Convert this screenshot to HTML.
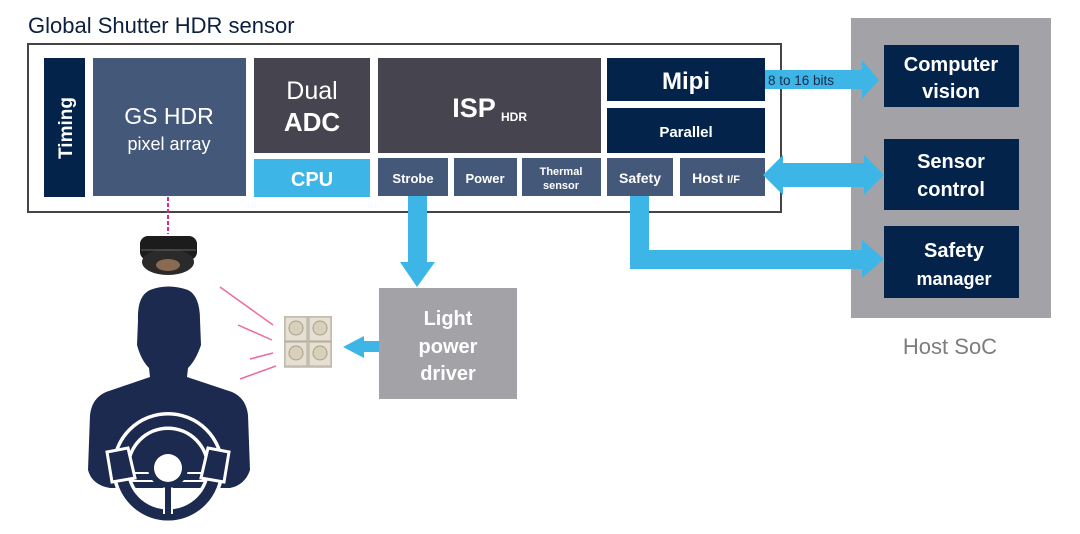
<!DOCTYPE html>
<html><head><meta charset="utf-8"><style>
html,body{margin:0;padding:0;background:#fff}
svg{display:block}
text{font-family:"Liberation Sans",sans-serif}
</style></head><body>
<svg width="1080" height="534" viewBox="0 0 1080 534" xmlns="http://www.w3.org/2000/svg">
<text x="28" y="33" font-size="22" fill="#0b1f3f">Global Shutter HDR sensor</text>
<rect x="28" y="44" width="753" height="168" fill="#fff" stroke="#454545" stroke-width="2"/>
<rect x="851" y="18" width="200" height="300" fill="#a3a2a7"/>
<text x="950" y="354" font-size="22" fill="#7d7d7d" text-anchor="middle">Host SoC</text>
<g font-weight="bold" fill="#fff" text-anchor="middle">
<rect x="44" y="58" width="41" height="139" fill="#03234b"/>
<text transform="translate(72,128) rotate(-90)" font-size="19" text-anchor="middle">Timing</text>
<rect x="93" y="58" width="153" height="138" fill="#44597a"/>
<text x="169" y="124" font-size="23" font-weight="normal">GS HDR</text>
<text x="169" y="150" font-size="18" font-weight="normal">pixel array</text>
<rect x="254" y="58" width="116" height="95" fill="#46454f"/>
<text x="312" y="99" font-size="25" font-weight="normal">Dual</text>
<text x="312" y="131" font-size="26">ADC</text>
<rect x="254" y="159" width="116" height="38" fill="#3db5e6"/>
<text x="312" y="186" font-size="20">CPU</text>
<rect x="378" y="58" width="223" height="95" fill="#46454f"/>
<text x="474" y="117" font-size="27">ISP</text><text x="514" y="121" font-size="12">HDR</text>
<rect x="378" y="158" width="70" height="38" fill="#44597a"/>
<text x="413" y="183" font-size="13">Strobe</text>
<rect x="454" y="158" width="63" height="38" fill="#44597a"/>
<text x="485" y="183" font-size="13">Power</text>
<rect x="522" y="158" width="79" height="38" fill="#44597a"/>
<text x="561" y="175" font-size="11">Thermal</text><text x="561" y="189" font-size="11">sensor</text>
<rect x="607" y="58" width="158" height="43" fill="#03234b"/>
<text x="686" y="89" font-size="24">Mipi</text>
<rect x="607" y="108" width="158" height="45" fill="#03234b"/>
<text x="686" y="137" font-size="15">Parallel</text>
<rect x="607" y="158" width="66" height="38" fill="#44597a"/>
<text x="640" y="183" font-size="14">Safety</text>
<rect x="680" y="158" width="85" height="38" fill="#44597a"/>
<text x="716" y="183" font-size="14">Host <tspan font-size="11">I/F</tspan></text>
<rect x="884" y="45" width="135" height="62" fill="#03234b"/>
<text x="951" y="71" font-size="20">Computer</text><text x="951" y="98" font-size="20">vision</text>
<rect x="884" y="139" width="135" height="71" fill="#03234b"/>
<text x="951" y="168" font-size="20">Sensor</text><text x="951" y="196" font-size="20">control</text>
<rect x="884" y="226" width="135" height="72" fill="#03234b"/>
<text x="954" y="257" font-size="20">Safety</text><text x="954" y="285" font-size="18">manager</text>
<rect x="379" y="288" width="138" height="111" fill="#a3a2a7"/>
<text x="448" y="325" font-size="20">Light</text><text x="448" y="353" font-size="20">power</text><text x="448" y="380" font-size="20">driver</text>
</g>
<g fill="#3db5e6">
<polygon points="765,70 862,70 862,60 879,80 862,99 862,89 765,89"/>
<polygon points="763,175 783,155 783,163 864,163 864,155 884,175 864,195 864,187 783,187 783,195"/>
<polygon points="630,196 649,196 649,250 862,250 862,240 884,259 862,278 862,269 630,269"/>
<polygon points="408,196 427,196 427,262 435,262 417,287 400,262 408,262"/>
<polygon points="379,341 364,341 364,336 343,347 364,358 364,352 379,352"/>
</g>
<text x="768" y="85" font-size="13.5" fill="#1a2a4a">8 to 16 bits</text>
<line x1="168" y1="197" x2="168" y2="234" stroke="#e0287d" stroke-width="2" stroke-dasharray="4,2"/>
<g stroke="#ee6aa0" stroke-width="1.5">
<line x1="220" y1="287" x2="273" y2="325"/><line x1="238" y1="325" x2="272" y2="340"/>
<line x1="250" y1="359" x2="273" y2="353"/><line x1="240" y1="379" x2="276" y2="366"/>
</g>
<rect x="140" y="236" width="57" height="24" rx="8" fill="#1c1c1c"/>
<ellipse cx="168" cy="262" rx="26" ry="13" fill="#2a2a2a"/>
<ellipse cx="168" cy="265" rx="12" ry="6" fill="#8a6a50"/>
<line x1="141" y1="250" x2="196" y2="250" stroke="#666" stroke-width="1"/>
<rect x="284" y="316" width="48" height="52" fill="#cfcac0"/>
<g fill="#e6e0d3" stroke="#b5ae9f">
<rect x="285" y="317" width="22" height="24"/><rect x="309" y="317" width="22" height="24"/>
<rect x="285" y="342" width="22" height="24"/><rect x="309" y="342" width="22" height="24"/>
</g>
<g fill="#d9d0bc" stroke="#a89f8b"><circle cx="296" cy="328" r="7"/><circle cx="320" cy="328" r="7"/><circle cx="296" cy="353" r="7"/><circle cx="320" cy="353" r="7"/></g>
<g fill="#1b2a4e">
<path d="M150 290 Q168 283 188 290 Q200 296 200 320 L201 345 Q196 360 188 368 L187 377 L232 392 Q246 398 248 415 L250 470 Q245 485 230 488 L110 488 Q92 485 88 470 L90 415 Q92 398 106 392 L150 377 L149 368 Q141 360 137 345 L138 320 Q137 296 150 290 Z"/>
</g>
<circle cx="168" cy="468" r="47" fill="none" stroke="#fff" stroke-width="18"/>
<circle cx="168" cy="468" r="47" fill="none" stroke="#1b2a4e" stroke-width="11"/>
<rect x="132" y="472" width="72" height="10" fill="#fff"/>
<rect x="134" y="474" width="68" height="6" fill="#1b2a4e"/>
<rect x="163" y="482" width="10" height="32" fill="#fff"/>
<rect x="165" y="482" width="6" height="32" fill="#1b2a4e"/>
<circle cx="168" cy="468" r="20" fill="#1b2a4e"/>
<circle cx="168" cy="468" r="14" fill="#fff"/>
<g fill="#1b2a4e" stroke="#fff" stroke-width="3">
<path d="M107 452 L128 448 L135 478 L112 482 Z"/>
<path d="M229 452 L208 448 L201 478 L224 482 Z"/>
</g>
</svg>
</body></html>
